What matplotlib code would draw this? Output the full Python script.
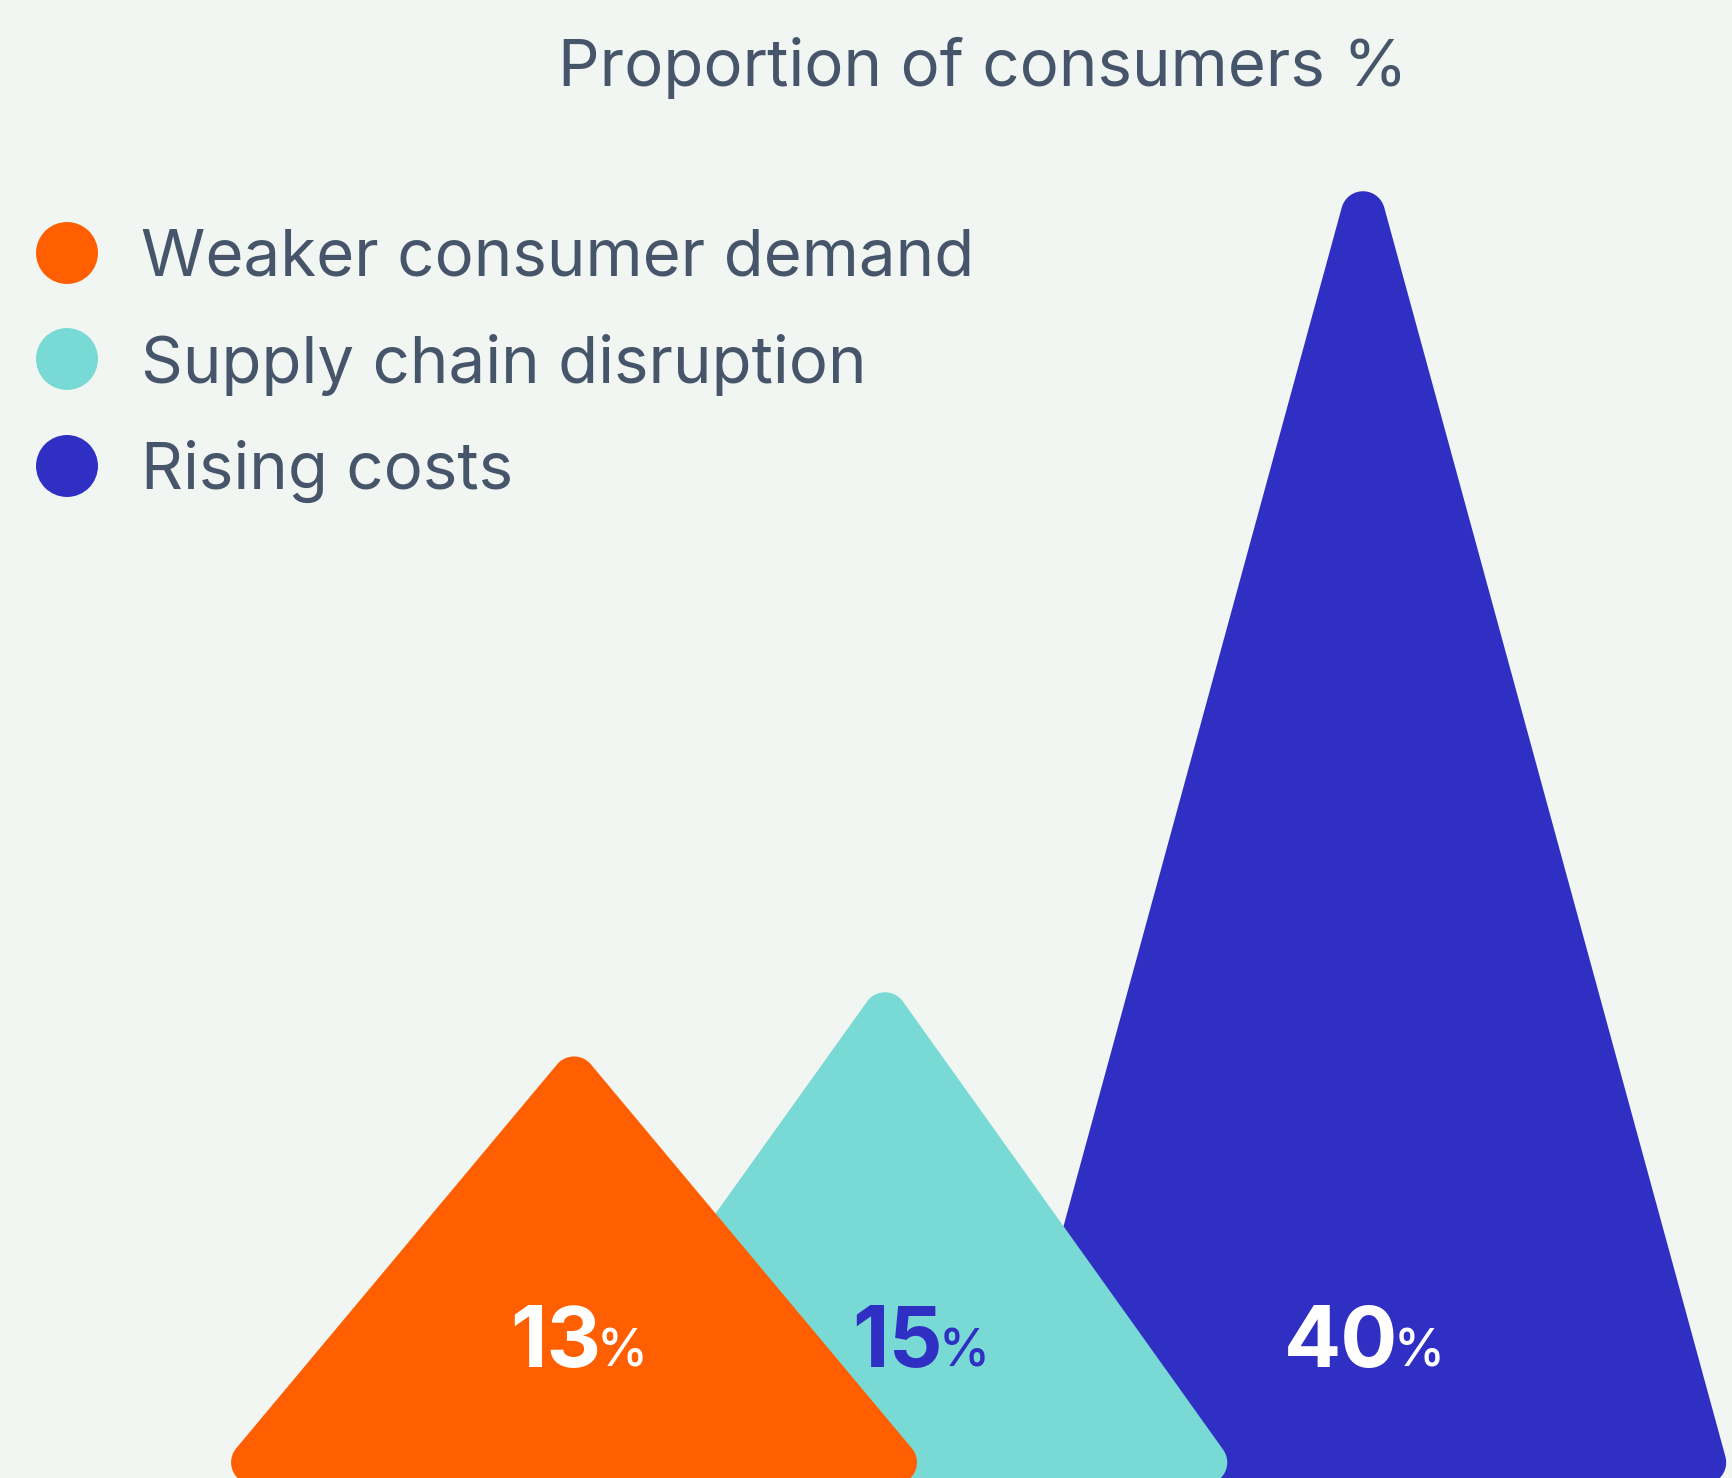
import matplotlib
matplotlib.use("Agg")
import matplotlib.pyplot as plt
from matplotlib.patches import Polygon
import numpy as np

# data
categories = ["Weaker consumer demand", "Supply chain disruption", "Rising costs"]
values = [13, 15, 40]
colors = ["#FF5F00", "#79D9D4", "#2F2FC3"]
label_colors = ["white", "#2F2FC3", "white"]
title = "Proportion of consumers %"

# layout (pixels)
W, H = 1732, 1478
BG = "#F1F6F3"
TEXT = "#465569"
centers = [574, 885, 1363]
half_ws = [368, 363, 370]
label_dx = [27, 58, 35]
corner_r = 22
ybot, ytop = 0.19, 43.83
label_y = 3.47

plt.rcParams['font.family'] = ['Inter', 'DejaVu Sans']

fig = plt.figure(figsize=(W / 100, H / 100), dpi=100, facecolor=BG)
ax = fig.add_axes([0, 0, 1, 1])
ax.set_facecolor(BG)
ax.set_xlim(0, W)
ax.set_ylim(ybot, ytop)
ax.axis('off')

sy = H / (ytop - ybot)  # px per value unit


def rounded(verts, r):
    # fillet every corner of a polygon given in px coords
    out = []
    n = len(verts)
    for i in range(n):
        p = np.asarray(verts[i], float)
        a = np.asarray(verts[i - 1], float)
        b = np.asarray(verts[(i + 1) % n], float)
        u1 = (a - p) / np.linalg.norm(a - p)
        u2 = (b - p) / np.linalg.norm(b - p)
        th = np.arccos(np.clip(np.dot(u1, u2), -1, 1))
        bis = (u1 + u2) / np.linalg.norm(u1 + u2)
        c = p + bis * r / np.sin(th / 2)
        t1 = p + u1 * r / np.tan(th / 2)
        t2 = p + u2 * r / np.tan(th / 2)
        a1 = np.arctan2(t1[1] - c[1], t1[0] - c[0])
        a2 = np.arctan2(t2[1] - c[1], t2[0] - c[0])
        d = (a2 - a1 + np.pi) % (2 * np.pi) - np.pi
        for s in np.linspace(0, 1, 20):
            ang = a1 + d * s
            out.append(c + r * np.array([np.cos(ang), np.sin(ang)]))
    return np.array(out)


for i, (v, col) in enumerate(zip(values, colors)):
    cx = centers[i]
    hw = half_ws[i]
    tri = [(cx - hw, 0), (cx, v), (cx + hw, 0)]
    px = [(x, y * sy) for x, y in tri]
    pts = rounded(px, corner_r)
    pts[:, 1] = pts[:, 1] / sy
    ax.add_patch(Polygon(pts, closed=True, facecolor=col, edgecolor='none',
                         zorder=3 - i))

    num = ax.text(cx + label_dx[i], label_y, str(v), ha='right', va='baseline',
                  fontsize=61, fontweight='bold', color=label_colors[i], zorder=5)
    ax.annotate('%', xy=(1, label_y), xycoords=(num, 'data'),
                xytext=(-4, 0), textcoords='offset pixels',
                ha='left', va='baseline', fontsize=37, fontweight='medium',
                color=label_colors[i], zorder=5)

fig.text(983 / W, 1 - 86 / H, title, ha='center', va='baseline',
         fontsize=47, color=TEXT)

leg_circle_y = [253, 359, 466]
leg_text_y = [276, 383, 489]
for i, cat in enumerate(categories):
    ax.scatter([67 / W], [1 - leg_circle_y[i] / H], s=1990, color=colors[i],
               transform=fig.transFigure, edgecolors='none', clip_on=False)
    fig.text(141 / W, 1 - leg_text_y[i] / H, cat, ha='left', va='baseline',
             fontsize=47, color=TEXT)

fig.savefig("out.png", dpi=100, facecolor=BG)
